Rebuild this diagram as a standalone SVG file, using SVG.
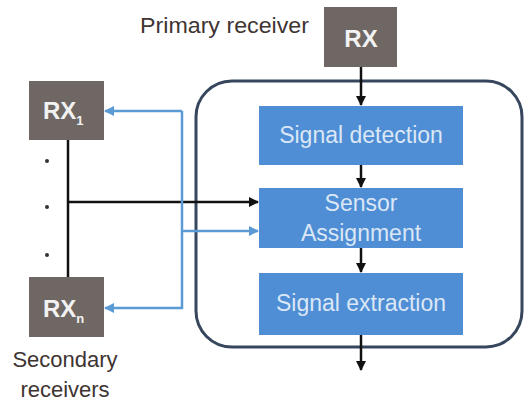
<svg xmlns="http://www.w3.org/2000/svg" width="524" height="405" viewBox="0 0 524 405">
<defs>
<style>
.rx{fill:#6f6764;}
.rxt{font-family:"Liberation Sans",Arial,sans-serif;font-size:24px;fill:#f2f2f2;font-weight:bold;}
.blk{fill:#4f8ed5;}
.bt{font-family:"Liberation Sans",Arial,sans-serif;font-size:23px;fill:#dbe7f5;text-anchor:middle;}
.lbl{font-family:"Liberation Sans",Arial,sans-serif;font-size:22px;fill:#3e3432;}
.k{stroke:#111;stroke-width:2.5;fill:none;}
.b{stroke:#5b9bd5;stroke-width:2.5;fill:none;}
</style>
<marker id="ak" viewBox="0 0 10 10" refX="9" refY="5" markerWidth="4" markerHeight="4" orient="auto"><path d="M0,0 L10,5 L0,10 z" fill="#111"/></marker>
<marker id="ab" viewBox="0 0 10 10" refX="9" refY="5" markerWidth="4" markerHeight="4" orient="auto"><path d="M0,0 L10,5 L0,10 z" fill="#5b9bd5"/></marker>
</defs>
<rect width="524" height="405" fill="#ffffff"/>
<rect id="container" x="196" y="81" width="326" height="266" rx="36" ry="36" fill="none" stroke="#36465c" stroke-width="3"/>
<g id="connectors">
<line class="k" x1="361" y1="67" x2="361" y2="105" marker-end="url(#ak)"/>
<line class="k" x1="361" y1="165" x2="361" y2="187" marker-end="url(#ak)"/>
<line class="k" x1="361" y1="248" x2="361" y2="272" marker-end="url(#ak)"/>
<line class="k" x1="361" y1="335" x2="361" y2="370" marker-end="url(#ak)"/>
<line class="k" x1="68" y1="140" x2="68" y2="277"/>
<line class="k" x1="68" y1="202" x2="258" y2="202" marker-end="url(#ak)"/>
<polyline class="b" points="182,111 105,111" marker-end="url(#ab)"/>
<polyline class="b" points="182,111 182,308 105,308" marker-end="url(#ab)"/>
<line class="b" x1="182" y1="231" x2="258" y2="231" marker-end="url(#ab)"/>
</g>
<g id="dots" fill="#333">
<circle cx="47" cy="161" r="2"/>
<circle cx="47" cy="207" r="2"/>
<circle cx="47" cy="255" r="2"/>
</g>
<g id="rx-primary">
<rect class="rx" x="324" y="7" width="73" height="60"/>
<text class="rxt" x="361" y="47" text-anchor="middle">RX</text>
</g>
<text id="primary-label" class="lbl" x="140" y="33" textLength="169" lengthAdjust="spacingAndGlyphs">Primary receiver</text>
<g id="rx-1">
<rect class="rx" x="29" y="81" width="75" height="59"/>
<text class="rxt" x="43" y="119">RX<tspan font-size="13" dy="6">1</tspan></text>
</g>
<g id="rx-n">
<rect class="rx" x="29" y="277" width="75" height="60"/>
<text class="rxt" x="43" y="317">RX<tspan font-size="13" dy="6">n</tspan></text>
</g>
<text id="secondary-label" class="lbl" text-anchor="middle"><tspan x="65" y="367">Secondary</tspan><tspan x="65" y="397">receivers</tspan></text>
<g id="signal-detection">
<rect class="blk" x="259" y="106" width="204" height="59"/>
<text class="bt" x="361" y="143">Signal detection</text>
</g>
<g id="sensor-assignment">
<rect class="blk" x="259" y="188" width="204" height="60"/>
<text class="bt" x="361" y="211">Sensor</text>
<text class="bt" x="361" y="241">Assignment</text>
</g>
<g id="signal-extraction">
<rect class="blk" x="259" y="273" width="204" height="62"/>
<text class="bt" x="361" y="311">Signal extraction</text>
</g>
</svg>
